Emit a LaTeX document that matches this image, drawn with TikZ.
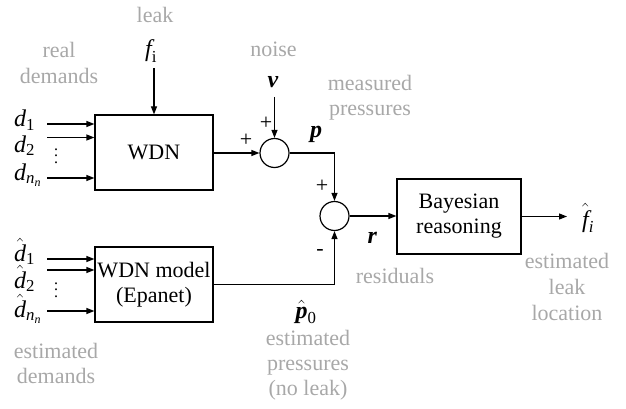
\documentclass[tikz,border=0pt]{standalone}
\usepackage{amsmath}
\usepackage{fontspec}
\setmainfont{Liberation Serif}
\usetikzlibrary{arrows.meta,calc}
\definecolor{lbl}{RGB}{168,168,168}
\newcommand{\bip}[1]{\textbf{\textit{#1}}}
\tikzset{
 blk/.style={draw, line width=1.2pt, minimum width=118pt, minimum height=75pt, inner sep=0pt, align=center, font=\fontsize{22}{25}\selectfont},
 sumc/.style={draw, circle, line width=1.2pt, minimum size=29pt, inner sep=0pt},
 conn/.style={line width=1.2pt, -{Triangle[length=8pt,width=6pt]}},
 wire/.style={line width=1.2pt},
 gl/.style={text=lbl, font=\fontsize{22}{25}\selectfont, anchor=base, inner sep=0pt},
 sym/.style={font=\fontsize{24}{26}\selectfont, anchor=base, inner sep=0pt},
 symw/.style={sym, anchor=base west},
 sgn/.style={font=\fontsize{22}{24}\selectfont, inner sep=0pt},
 vdt/.style={font=\fontsize{16}{6.5}\selectfont, inner sep=0pt, align=center},
}
\begin{document}
\begin{tikzpicture}[x=1pt,y=-1pt]
\useasboundingbox (0,0) rectangle (626,409);
% blocks
\node[blk] (wdn) at (154,152.5) {WDN};
\node[blk] (mdl) at (154,284.5) {WDN model\\(Epanet)};
\node[blk, minimum width=124pt] (bay) at (459,216.5) {Bayesian\\reasoning};
\node[sumc] (s1) at (274.5,153) {};
\node[sumc] (s2) at (334.5,216) {};
% inputs real demands
\coordinate (a1) at (47,124);
\coordinate (a2) at (47,137.5);
\coordinate (a3) at (47,178);
\draw[conn] (a1) -- (a1 -| wdn.west);
\draw[conn] (a2) -- (a2 -| wdn.west);
\draw[conn] (a3) -- (a3 -| wdn.west);
\node[symw] (d1) at (14,127) {$\textit{d}_{\text{1}}$};
\node[symw] (d2) at (14,152) {$\textit{d}_{\text{2}}$};
\node[symw] (dn) at (14,180) {$\textit{d}_{\textit{n}_{\textit{n}}}$};
\node[vdt] (vd1) at (56,156) {.\\.\\.};
% inputs estimated demands
\coordinate (b1) at (47,259);
\coordinate (b2) at (47,270);
\coordinate (b3) at (47,311);
\draw[conn] (b1) -- (b1 -| mdl.west);
\draw[conn] (b2) -- (b2 -| mdl.west);
\draw[conn] (b3) -- (b3 -| mdl.west);
\node[symw] (e1) at (14,261) {$\hat{\textit{d}}_{\text{1}}$};
\node[symw] (e2) at (14,288) {$\hat{\textit{d}}_{\text{2}}$};
\node[symw] (en) at (14,317) {$\hat{\textit{d}}_{\textit{n}_{\textit{n}}}$};
\node[vdt] (vd2) at (56,290) {.\\.\\.};
% leak
\node[sym] (fi) at (151,57) {$\textit{f}_{\text{i}}$};
\coordinate (ft) at (154,68);
\draw[conn] (ft) -- (wdn.north);
% noise
\node[sym] (v) at (273,88) {\bip{v}};
\coordinate (vt) at (274.5,97);
\draw[conn] (vt) -- (s1.north);
% connections
\draw[conn] (wdn.east |- s1.west) -- (s1.west);
\draw[conn] (s1.east) -| (s2.north);
\draw[conn] (mdl.east) -| (s2.south);
\draw[conn] (s2.east) -- (s2.east -| bay.west);
\coordinate (fo) at (567,216.5);
\draw[conn] (bay.east) -- (fo);
% symbols
\node[sym] (p) at (316,138) {\bip{p}};
\node[sym] (r) at (372.5,243) {\bip{r}};
\node[sym] (ph) at (306,318) {$\hat{\text{\bip{p}}}_{\text{0}}$};
\node[sym] (fh) at (588,227) {$\hat{\textit{f}}_{\textit{i}}$};
% signs
\node[sgn] (sg1) at (246,140) {+};
\node[sgn] (sg2) at (266,123) {+};
\node[sgn] (sg3) at (322,186) {+};
\node[sgn] (sg4) at (320,252) {-};
% gray labels
\node[gl] (l1) at (155,23) {leak};
\node[gl] (l2) at (59,58) {real};
\node[gl] (l3) at (59,84) {demands};
\node[gl] (l4) at (273.5,57) {noise};
\node[gl] (l5) at (370,91) {measured};
\node[gl] (l6) at (370,116) {pressures};
\node[gl] (l7) at (395,283) {residuals};
\node[gl] (l8) at (567,268) {estimated};
\node[gl] (l9) at (567,294) {leak};
\node[gl] (l10) at (567,320) {location};
\node[gl] (l11) at (56,358) {estimated};
\node[gl] (l12) at (56,383) {demands};
\node[gl] (l13) at (308,345) {estimated};
\node[gl] (l14) at (308,370) {pressures};
\node[gl] (l15) at (308,395) {(no leak)};
\end{tikzpicture}
\end{document}
